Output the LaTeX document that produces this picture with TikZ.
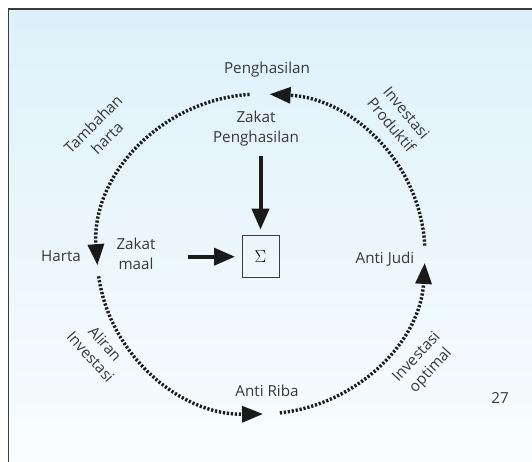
\documentclass[tikz,border=0pt]{standalone}
\usepackage{fontspec}
\setmainfont{Open Sans}[Ligatures=NoCommon]
\usetikzlibrary{arrows.meta,calc}
\definecolor{txt}{HTML}{383838}
\definecolor{ink}{HTML}{1A1A1A}
\definecolor{bgtop}{HTML}{DDF1FA}
\definecolor{bgbot}{HTML}{FAFDFE}
\definecolor{framec}{HTML}{3C3C3C}
\begin{document}
\begin{tikzpicture}[x=1pt,y=1pt,
  lbl/.style={text=txt,font=\fontsize{15.2}{19.5}\selectfont,align=center,inner sep=0pt},
  dotarc/.style={draw=ink,line width=3.4pt,dash pattern=on 2.2pt off 1.8pt,-{Triangle[length=21pt,width=16pt]}},
  bigarrow/.style={draw=ink,line width=4pt,-{Triangle[length=21pt,width=17pt]}},
  sigbox/.style={draw=framec,line width=1pt,minimum width=37pt,minimum height=42pt,inner sep=0pt}
]
\useasboundingbox (0,0) rectangle (532,-461);
\clip (0,0) rectangle (532,-461);
\shade[top color=bgtop,bottom color=bgbot] (8.5,-9) rectangle (545,-475);
\draw[framec,line width=1.3pt] (8.5,-475) -- (8.5,-9) -- (545,-9);

\coordinate (C) at (261,-254);
\coordinate (a1) at ($(C)+(3:164pt and 160pt)$);
\coordinate (a2) at ($(C)+(94:164pt and 160pt)$);
\coordinate (a3) at ($(C)+(188:164pt and 160pt)$);
\coordinate (a4) at ($(C)+(276.6:164pt and 160pt)$);
\draw[dotarc] (a1) arc[start angle=3, end angle=87, x radius=164pt, y radius=160pt];
\draw[dotarc] (a2) arc[start angle=94, end angle=184, x radius=164pt, y radius=160pt];
\draw[dotarc] (a3) arc[start angle=188, end angle=270.7, x radius=164pt, y radius=160pt];
\draw[dotarc] (a4) arc[start angle=276.6, end angle=356.8, x radius=164pt, y radius=160pt];

\node[lbl] (peng) at (267,-70) {Penghasilan};
\node[lbl] (harta) at (61,-256) {Harta};
\node[lbl] (judi) at (385,-259) {Anti Judi};
\node[lbl] (riba) at (267,-391) {Anti Riba};
\node[lbl] (n27) at (500,-398) {27};
\node[lbl] (zp) at (256,-128.5) {Zakat\\Penghasilan};
\node[lbl] (zm) at (136,-254) {Zakat\\maal};
\node[sigbox] (sigma) at (260.5,-256.7) {\fontsize{18}{18}\selectfont$\Sigma$};

\node[lbl,rotate=45] (tamb) at (100,-131) {Tambahan\\harta};
\node[lbl,rotate=-50] (invp) at (399,-119) {Investasi\\Produktif};
\node[lbl,rotate=-48] (alir) at (98,-350) {Aliran\\Investasi};
\node[lbl,rotate=47] (invo) at (424,-364) {Investasi\\optimal};

\draw[bigarrow,shorten <=10pt,shorten >=5.5pt] (sigma.north |- zp.south) -- (sigma.north);
\draw[bigarrow,shorten <=32pt,shorten >=6.5pt] (zm.east |- sigma.west) -- (sigma.west);
\end{tikzpicture}
\end{document}
